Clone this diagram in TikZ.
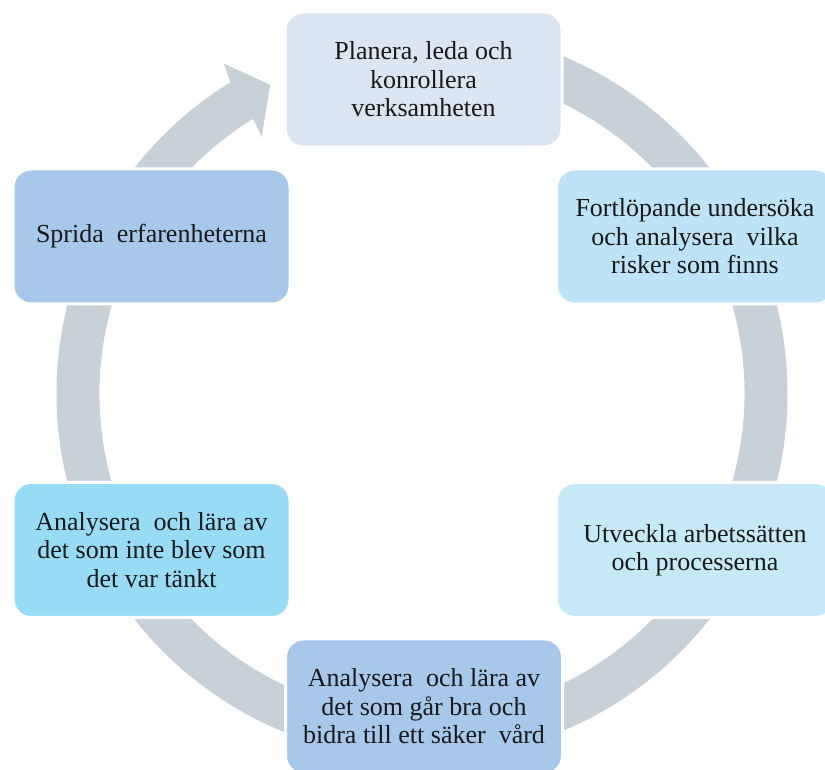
\documentclass[tikz,border=0pt]{standalone}
\usepackage{fontspec}
\setmainfont{Liberation Serif}
\newfontfamily\boxfont{Liberation Serif}
\usetikzlibrary{calc}
\definecolor{ringgray}{HTML}{C9D1D8}
\definecolor{planfill}{HTML}{DCE6F2}
\definecolor{riskfill}{HTML}{BEE2F6}
\definecolor{devfill}{HTML}{C6E9F8}
\definecolor{goodfill}{HTML}{A7C8EB}
\definecolor{badfill}{HTML}{98DBF4}
\definecolor{spreadfill}{HTML}{A7C8EB}
\begin{document}
\begin{tikzpicture}[x=1pt,y=1pt,
    stepbox/.style={rectangle, rounded corners=18pt, draw=white, line width=3pt,
      minimum width=277pt, minimum height=135pt, align=center,
      font=\boxfont\fontsize{26}{28.5}\selectfont, text=black!90}]
    \useasboundingbox (0,0) rectangle (825,769);
    \clip (0,0) rectangle (825,769);
    % ring with arrow head
    \coordinate (c) at (422,375.5);
    \fill[ringgray] ($(c)+(90:365.5pt)$) arc[start angle=90, end angle=-238.4, radius=365.5pt]
        -- ($(c)+(121:385pt)$) -- ($(c)+(116.2:344pt)$) -- ($(c)+(122:302.5pt)$)
        -- ($(c)+(121.6:322.5pt)$) arc[start angle=121.6, end angle=450, radius=322.5pt] -- cycle;
    % steps
    \node[stepbox, fill=planfill] (plan) at (423.5,689.5) {Planera, leda och\\konrollera\\verksamheten};
    \node[stepbox, fill=riskfill] (risk) at (695,532.5) {Fortlöpande undersöka\\och analysera\ \ vilka\\risker som finns};
    \node[stepbox, fill=devfill] (dev) at (695,219) {Utveckla arbetssätten\\och processerna};
    \node[stepbox, fill=goodfill] (good) at (424,62.5) {Analysera\ \ och lära av\\det som går bra och\\bidra till ett säker\ \ vård};
    \node[stepbox, fill=badfill] (bad) at (151.5,219) {Analysera\ \ och lära av\\det som inte blev som\\det var tänkt};
    \node[stepbox, fill=spreadfill] (spread) at (151.5,532.5) {Sprida\ \ erfarenheterna};
\end{tikzpicture}
\end{document}
